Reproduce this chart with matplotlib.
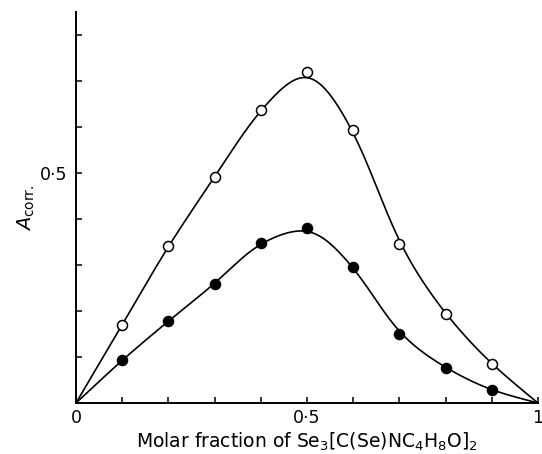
import numpy as np
import matplotlib
matplotlib.use('Agg')
import matplotlib.pyplot as plt

# values
fraction = [0.1, 0.2, 0.3, 0.4, 0.5, 0.6, 0.7, 0.8, 0.9]
open_pts = [0.170, 0.341, 0.491, 0.637, 0.720, 0.593, 0.346, 0.194, 0.085]
filled_pts = [0.093, 0.178, 0.259, 0.348, 0.380, 0.296, 0.151, 0.077, 0.028]
x_ticklabels = ['0', '0\u00b75', '1']


def smooth(xs, ys, n=1001, sigma=0.03):
    # monotone cubic through the points, then a light gaussian blur so the
    # drawn line looks like the hand-fitted curve (it is only the line)
    xs = np.asarray(xs, float)
    ys = np.asarray(ys, float)
    h = np.diff(xs)
    d = np.diff(ys) / h
    m = np.zeros_like(ys)
    for i in range(1, len(xs) - 1):
        if d[i - 1] * d[i] > 0:
            w1 = 2 * h[i] + h[i - 1]
            w2 = h[i] + 2 * h[i - 1]
            m[i] = (w1 + w2) / (w1 / d[i - 1] + w2 / d[i])
    m[0] = d[0]
    m[-1] = d[-1]
    xx = np.linspace(xs[0], xs[-1], n)
    idx = np.clip(np.searchsorted(xs, xx) - 1, 0, len(xs) - 2)
    t = (xx - xs[idx]) / h[idx]
    yy = ((2 * t ** 3 - 3 * t ** 2 + 1) * ys[idx] + (t ** 3 - 2 * t ** 2 + t) * h[idx] * m[idx]
          + (-2 * t ** 3 + 3 * t ** 2) * ys[idx + 1] + (t ** 3 - t ** 2) * h[idx] * m[idx + 1])
    step = xx[1] - xx[0]
    half = int(4 * sigma / step)
    kern = np.exp(-0.5 * (np.arange(-half, half + 1) * step / sigma) ** 2)
    kern /= kern.sum()
    left = 2 * yy[0] - yy[half:0:-1]
    right = 2 * yy[-1] - yy[-2:-half - 2:-1]
    padded = np.concatenate([left, yy, right])
    return xx, np.convolve(padded, kern, mode='valid')


fig = plt.figure(figsize=(5.42, 4.54), dpi=100)
ax = fig.add_axes([0.1402, 0.1123, 0.8524, 0.8613])

for ys, face in [(open_pts, 'white'), (filled_pts, 'black')]:
    xx, yy = smooth([0] + fraction + [1], [0] + ys + [0])
    ax.plot(xx, yy, color='black', lw=1.2, zorder=2)
    ax.plot(fraction, ys, 'o', mfc=face, mec='black', mew=1.1, ms=7.2, zorder=3)

ax.set_xlim(0, 1)
ax.set_ylim(0, 0.85)
ax.spines['top'].set_visible(False)
ax.spines['right'].set_visible(False)
for s in ('left', 'bottom'):
    ax.spines[s].set_linewidth(1.4)

ax.set_xticks(np.arange(0, 1.01, 0.1))
ax.set_xticklabels([x_ticklabels[0], '', '', '', '', x_ticklabels[1], '', '', '', '', x_ticklabels[2]])
ax.set_yticks(np.arange(0, 0.81, 0.1))
ax.set_yticklabels(['', '', '', '', '', '0\u00b75', '', '', ''])
ax.tick_params(direction='in', length=4.5, width=1.1, labelsize=12.5)
ax.tick_params(axis='x', pad=4)
ax.tick_params(axis='y', pad=6)

ax.set_xlabel(r'Molar fraction of Se$_3$[C(Se)NC$_4$H$_8$O]$_2$', fontsize=13.5, labelpad=3)
ax.set_ylabel(r'$A_{\mathrm{corr.}}$', fontsize=14, labelpad=2)

fig.savefig('out.png', dpi=100)
